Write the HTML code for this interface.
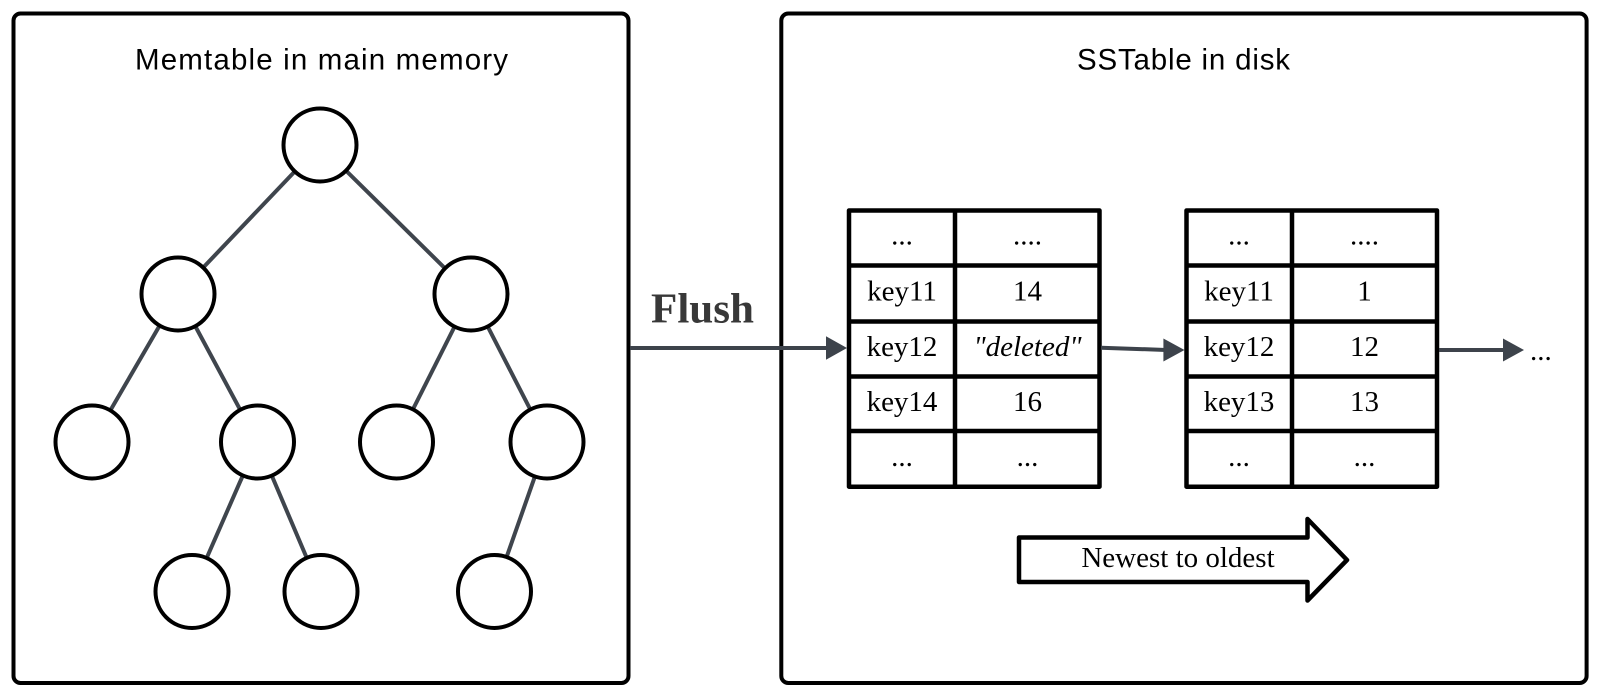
<!DOCTYPE html>
<html>
<head>
<meta charset="utf-8">
<style>
  html, body { margin: 0; padding: 0; background: #ffffff; }
  svg { display: block; }
</style>
</head>
<body>
<svg width="1600" height="697" viewBox="0 0 1600 697" xmlns="http://www.w3.org/2000/svg">
  <rect x="0" y="0" width="1600" height="697" fill="#ffffff"/>

  <!-- Outer boxes -->
  <rect x="13.5" y="13.5" width="615" height="669.5" rx="7" ry="7" fill="none" stroke="#000" stroke-width="4"/>
  <rect x="781.3" y="13.5" width="805.3" height="669.5" rx="7" ry="7" fill="none" stroke="#000" stroke-width="4"/>

  <!-- Titles -->
  <text x="135" y="69.5" font-family="'Liberation Sans', 'DejaVu Sans', sans-serif" font-size="29.5" fill="#000" textLength="373" lengthAdjust="spacing">Memtable in main memory</text>
  <text x="1077" y="69.5" font-family="'Liberation Sans', 'DejaVu Sans', sans-serif" font-size="29.5" fill="#000" textLength="213" lengthAdjust="spacing">SSTable in disk</text>

  <!-- Tree edges -->
  <g stroke="#3f454d" stroke-width="4" stroke-linecap="butt">
    <line x1="320" y1="145" x2="178" y2="294"/>
    <line x1="320" y1="145" x2="471" y2="294"/>
    <line x1="178" y1="294" x2="92" y2="442"/>
    <line x1="178" y1="294" x2="257.5" y2="442"/>
    <line x1="471" y1="294" x2="396.5" y2="442"/>
    <line x1="471" y1="294" x2="547" y2="442"/>
    <line x1="257.5" y1="442" x2="192" y2="591.5"/>
    <line x1="257.5" y1="442" x2="321" y2="591.5"/>
    <line x1="547" y1="442" x2="494.5" y2="591.5"/>
  </g>

  <!-- Tree nodes -->
  <g fill="#ffffff" stroke="#000" stroke-width="4">
    <circle cx="320" cy="145" r="36.5"/>
    <circle cx="178" cy="294" r="36.5"/>
    <circle cx="471" cy="294" r="36.5"/>
    <circle cx="92" cy="442" r="36.5"/>
    <circle cx="257.5" cy="442" r="36.5"/>
    <circle cx="396.5" cy="442" r="36.5"/>
    <circle cx="547" cy="442" r="36.5"/>
    <circle cx="192" cy="591.5" r="36.5"/>
    <circle cx="321" cy="591.5" r="36.5"/>
    <circle cx="494.5" cy="591.5" r="36.5"/>
  </g>

  <!-- Flush label and arrow -->
  <text x="651" y="322.7" font-family="'Liberation Serif', 'DejaVu Serif', serif" font-size="42" font-weight="bold" fill="#383838" textLength="103" lengthAdjust="spacingAndGlyphs">Flush</text>
  <line x1="630" y1="348" x2="828" y2="348" stroke="#3d434b" stroke-width="4"/>
  <polygon points="826,336.3 847,348 826,359.7" fill="#3d434b"/>

  <!-- Table 1 -->
  <g fill="none" stroke="#000" stroke-width="4.5" stroke-linejoin="round">
    <rect x="849" y="210.5" width="250.5" height="276.2"/>
    <line x1="955" y1="210.5" x2="955" y2="486.7"/>
    <line x1="849" y1="265.5" x2="1099.5" y2="265.5"/>
    <line x1="849" y1="321.5" x2="1099.5" y2="321.5"/>
    <line x1="849" y1="376.5" x2="1099.5" y2="376.5"/>
    <line x1="849" y1="431" x2="1099.5" y2="431"/>
  </g>
  <g font-family="'Liberation Serif', 'DejaVu Serif', serif" font-size="29" fill="#000" text-anchor="middle">
    <text x="902" y="244.5">...</text>
    <text x="1027.5" y="244.5">....</text>
    <text x="902" y="300.5">key11</text>
    <text x="1027.5" y="300.5">14</text>
    <text x="902" y="356">key12</text>
    <text x="1027.5" y="356" font-style="italic">"deleted"</text>
    <text x="902" y="411">key14</text>
    <text x="1027.5" y="411">16</text>
    <text x="902" y="466">...</text>
    <text x="1027.5" y="466">...</text>
  </g>

  <!-- Arrow table1 -> table2 -->
  <line x1="1101" y1="347.7" x2="1166" y2="350" stroke="#3d434b" stroke-width="4"/>
  <polygon points="1163.4,338.5 1184.5,350 1163.4,361.5" fill="#3d434b"/>

  <!-- Table 2 -->
  <g fill="none" stroke="#000" stroke-width="4.5" stroke-linejoin="round">
    <rect x="1186.5" y="210.5" width="250.5" height="276.2"/>
    <line x1="1292" y1="210.5" x2="1292" y2="486.7"/>
    <line x1="1186.5" y1="265.5" x2="1437" y2="265.5"/>
    <line x1="1186.5" y1="321.5" x2="1437" y2="321.5"/>
    <line x1="1186.5" y1="376.5" x2="1437" y2="376.5"/>
    <line x1="1186.5" y1="431" x2="1437" y2="431"/>
  </g>
  <g font-family="'Liberation Serif', 'DejaVu Serif', serif" font-size="29" fill="#000" text-anchor="middle">
    <text x="1239" y="244.5">...</text>
    <text x="1364.5" y="244.5">....</text>
    <text x="1239" y="300.5">key11</text>
    <text x="1364.5" y="300.5">1</text>
    <text x="1239" y="356">key12</text>
    <text x="1364.5" y="356">12</text>
    <text x="1239" y="411">key13</text>
    <text x="1364.5" y="411">13</text>
    <text x="1239" y="466">...</text>
    <text x="1364.5" y="466">...</text>
  </g>

  <!-- Arrow table2 -> ... -->
  <line x1="1439" y1="350" x2="1505" y2="350" stroke="#3d434b" stroke-width="4"/>
  <polygon points="1503,338.5 1524,350 1503,361.5" fill="#3d434b"/>
  <text x="1530" y="360" font-family="'Liberation Serif', 'DejaVu Serif', serif" font-size="29" fill="#000">...</text>

  <!-- Newest to oldest block arrow -->
  <path d="M1019,537.5 L1307.5,537.5 L1307.5,519 L1347,560 L1307.5,600.5 L1307.5,582 L1019,582 Z"
        fill="#ffffff" stroke="#000" stroke-width="4.5" stroke-linejoin="round"/>
  <text x="1178" y="567" font-family="'Liberation Serif', 'DejaVu Serif', serif" font-size="29" fill="#000" text-anchor="middle">Newest to oldest</text>
</svg>
</body>
</html>
